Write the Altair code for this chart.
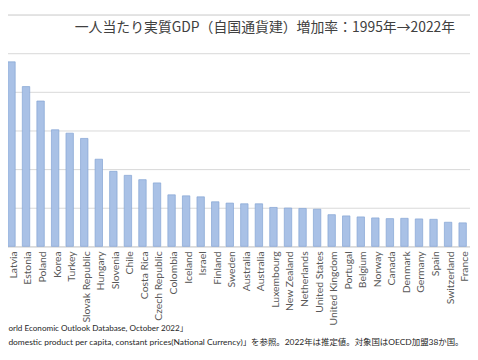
import altair as alt
import pandas as pd

countries = ["Ireland", "Latvia", "Estonia", "Poland", "Korea", "Turkey", "Slovak Republic",
             "Hungary", "Slovenia", "Chile", "Costa Rica", "Czech Republic", "Colombia",
             "Iceland", "Israel", "Finland", "Sweden", "Australia", "Australia", "Luxembourg",
             "New Zealand", "Netherlands", "United States", "United Kingdom", "Portugal",
             "Belgium", "Norway", "Canada", "Denmark", "Germany", "Spain", "Switzerland", "France"]
growth = [246, 238.8, 206.8, 188.1, 150.9, 146.5, 139.7, 112.8, 97.1, 91.9, 86.3, 82.1, 66.7,
          65.4, 64.1, 57.7, 56.0, 55.1, 55.1, 50.4, 49.6, 49.1, 48.1, 41.0, 39.4, 38.1, 36.8,
          35.9, 36.3, 35.5, 35.0, 31.2, 30.4]
y_ticks = [0, 50, 100, 150, 200, 250, 300]

title_text = "一人当たり実質GDP（自国通貨建）増加率：1995年→2022年"
note1 = "orld Economic Outlook Database, October 2022」"
note2 = "domestic product per capita, constant prices(National Currency)」を参照。2022年は推定値。対象国はOECD加盟38か国。"

keys = [f"{i:02d}" for i in range(len(countries))]
df = pd.DataFrame({"key": keys, "country": countries, "growth": growth})

W, H = 485, 234

xenc = alt.X("key:N", sort=keys,
             scale=alt.Scale(paddingInner=0.49, paddingOuter=0.25),
             axis=alt.Axis(title=None, labels=False, ticks=False, domain=True,
                           domainColor="#D9D9D9"))

bars = alt.Chart(df).mark_bar(
    fill="#A9C1E6", stroke="#84A4D4", strokeWidth=0.7
).encode(
    x=xenc,
    y=alt.Y("growth:Q", scale=alt.Scale(domain=[0, 300], nice=False),
            axis=alt.Axis(title=None, values=y_ticks, labels=False, ticks=False,
                          domain=False, gridColor="#D9D9D9", gridWidth=1)),
)

labels = alt.Chart(df).transform_filter("datum.key != '00'").mark_text(
    angle=270, align="right", baseline="middle", font="Lato", fontSize=10.5,
    color="#595959", dy=2.5
).encode(x=xenc, y=alt.value(H + 5), text="country:N")

title = alt.Chart(pd.DataFrame({"t": [title_text]})).mark_text(
    font="Noto Sans CJK JP", fontSize=14, color="#404040", align="center", baseline="alphabetic"
).encode(x=alt.value(278), y=alt.value(18), text="t:N")

nfont = "Lato, Noto Sans CJK JP"
n1 = alt.Chart(pd.DataFrame({"t": [note1]})).mark_text(
    font=nfont, fontSize=8.2, color="#262626", align="left", baseline="alphabetic"
).encode(x=alt.value(19), y=alt.value(319), text="t:N")

n2 = alt.Chart(pd.DataFrame({"t": [note2]})).mark_text(
    font=nfont, fontSize=8.5, color="#262626", align="left", baseline="alphabetic"
).encode(x=alt.value(19), y=alt.value(334), text="t:N")

chart = alt.layer(bars, labels, title, n1, n2).properties(
    width=W, height=H,
    autosize=alt.AutoSizeParams(type="none"),
    padding={"left": -18.6, "top": 5, "right": 0, "bottom": 104},
).configure_view(stroke=None).configure(background="white")

chart.save("out.html", embed_options={"renderer": "svg", "actions": False})
